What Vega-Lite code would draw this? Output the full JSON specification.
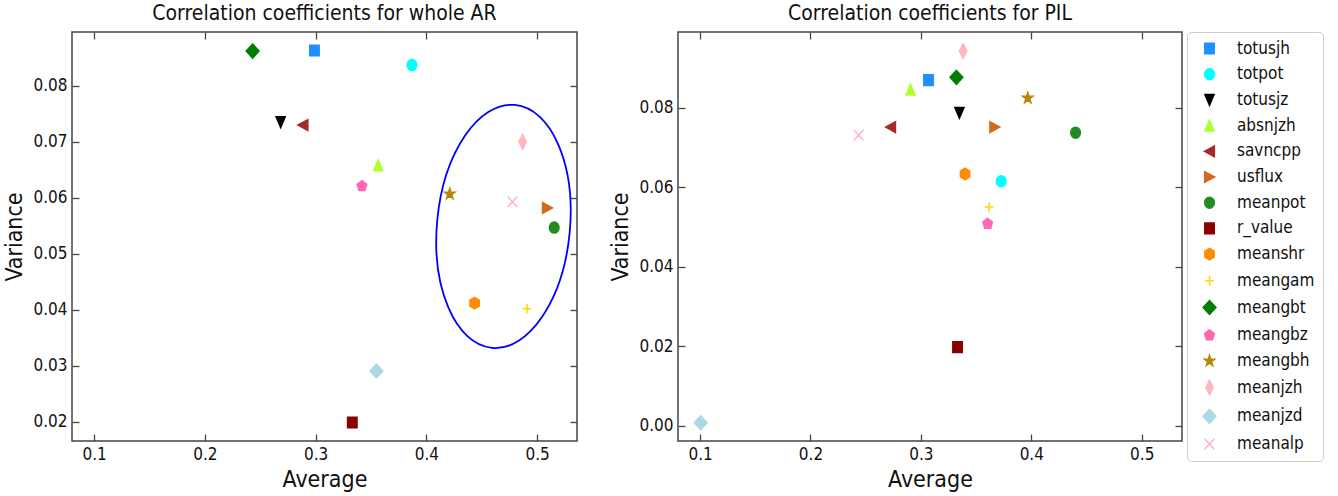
{
  "$schema": "https://vega.github.io/schema/vega-lite/v6.json",
  "padding": {"left": 3, "top": 2, "right": 0, "bottom": 0},
  "config": {
    "font": "DejaVu Sans Condensed, DejaVu Sans",
    "view": {"stroke": "#444444", "strokeWidth": 1.5},
    "axis": {
      "grid": false, "domain": false, "ticks": true, "tickSize": 7, "offset": -7,
      "tickColor": "#444444", "tickWidth": 1.3, "labelFontSize": 17, "labelColor": "#111111",
      "titleFontSize": 23, "titleFontWeight": "normal", "titleColor": "#111111",
      "labelPadding": 5, "titlePadding": 6, "labelFlush": false
    },
    "title": {"fontSize": 21, "fontWeight": "normal", "offset": 7, "baseline": "alphabetic", "color": "#111111"},
    "legend": {
      "orient": "right", "offset": 3, "padding": 8, "symbolOffset": 6, "strokeColor": "#cccccc", "cornerRadius": 4,
      "fillColor": "white", "labelFontSize": 17, "labelColor": "#111111", "symbolSize": 115,
      "symbolStrokeWidth": 1.5, "rowPadding": 7.7, "labelOffset": 19, "labelLimit": 200, "symbolOpacity": 1
    }
  },
  "datasets": {
    "whole": [
      {"feature": "totusjh", "average": 0.2989, "variance": 0.0863},
      {"feature": "totpot", "average": 0.3870, "variance": 0.0837},
      {"feature": "totusjz", "average": 0.2684, "variance": 0.0735},
      {"feature": "absnjzh", "average": 0.3565, "variance": 0.0658},
      {"feature": "savncpp", "average": 0.2886, "variance": 0.0730},
      {"feature": "usflux", "average": 0.5092, "variance": 0.0582},
      {"feature": "meanpot", "average": 0.5154, "variance": 0.0547},
      {"feature": "r_value", "average": 0.3331, "variance": 0.0199},
      {"feature": "meanshr", "average": 0.4435, "variance": 0.0412},
      {"feature": "meangam", "average": 0.4909, "variance": 0.0402},
      {"feature": "meangbt", "average": 0.2431, "variance": 0.0862},
      {"feature": "meangbz", "average": 0.3418, "variance": 0.0621},
      {"feature": "meangbh", "average": 0.4211, "variance": 0.0607},
      {"feature": "meanjzh", "average": 0.4869, "variance": 0.0700},
      {"feature": "meanjzd", "average": 0.3549, "variance": 0.0291},
      {"feature": "meanalp", "average": 0.4777, "variance": 0.0593}
    ],
    "pil": [
      {"feature": "totusjh", "average": 0.3069, "variance": 0.0869},
      {"feature": "totpot", "average": 0.3727, "variance": 0.0615},
      {"feature": "totusjz", "average": 0.3349, "variance": 0.0787},
      {"feature": "absnjzh", "average": 0.2906, "variance": 0.0845},
      {"feature": "savncpp", "average": 0.2726, "variance": 0.0751},
      {"feature": "usflux", "average": 0.3669, "variance": 0.0751},
      {"feature": "meanpot", "average": 0.4401, "variance": 0.0737},
      {"feature": "r_value", "average": 0.3332, "variance": 0.0198},
      {"feature": "meanshr", "average": 0.3400, "variance": 0.0633},
      {"feature": "meangam", "average": 0.3618, "variance": 0.0550},
      {"feature": "meangbt", "average": 0.3322, "variance": 0.0876},
      {"feature": "meangbz", "average": 0.3605, "variance": 0.0508},
      {"feature": "meangbh", "average": 0.3968, "variance": 0.0824},
      {"feature": "meanjzh", "average": 0.3383, "variance": 0.0942},
      {"feature": "meanjzd", "average": 0.1006, "variance": 0.0008},
      {"feature": "meanalp", "average": 0.2436, "variance": 0.0731}
    ],
    "ellipse": [{"average": 0.4696, "variance": 0.0549}]
  },
  "hconcat": [
    {
      "width": 505, "height": 409,
      "title": "Correlation coefficients for whole AR",
      "layer": [
        {
          "data": {"name": "whole"},
          "mark": {"type": "point", "filled": true, "size": 115, "strokeWidth": 1.5, "opacity": 1},
          "encoding": {
            "x": {"field": "average", "type": "quantitative", "scale": {"domain": [0.08, 0.536], "nice": false, "zero": false},
                  "axis": {"orient": "bottom", "values": [0.1, 0.2, 0.3, 0.4, 0.5], "format": ".1f", "title": "Average"}},
            "y": {"field": "variance", "type": "quantitative", "scale": {"domain": [0.0166, 0.0896], "nice": false, "zero": false},
                  "axis": {"orient": "left", "values": [0.02, 0.03, 0.04, 0.05, 0.06, 0.07, 0.08], "format": ".2f", "title": "Variance"}},
            "fill": {"field": "feature", "type": "nominal", "title": null,
                     "scale": {"domain": ["totusjh","totpot","totusjz","absnjzh","savncpp","usflux","meanpot","r_value","meanshr","meangam","meangbt","meangbz","meangbh","meanjzh","meanjzd","meanalp"],
                               "range": ["#1E90FF","#00FFFF","#000000","#ADFF2F","#A52A2A","#D2691E","#228B22","#8B0000","#FF8C00","#FFD700","#008000","#FF69B4","#B8860B","#FFB6C1","#ADD8E6","#FFB6C1"]}},
            "stroke": {"field": "feature", "type": "nominal", "title": null,
                     "scale": {"domain": ["totusjh","totpot","totusjz","absnjzh","savncpp","usflux","meanpot","r_value","meanshr","meangam","meangbt","meangbz","meangbh","meanjzh","meanjzd","meanalp"],
                               "range": ["#1E90FF","#00FFFF","#000000","#ADFF2F","#A52A2A","#D2691E","#228B22","#8B0000","#FF8C00","#FFD700","#008000","#FF69B4","#B8860B","#FFB6C1","#ADD8E6","#FFB6C1"]}},
            "shape": {"field": "feature", "type": "nominal", "title": null,
                     "scale": {"domain": ["totusjh","totpot","totusjz","absnjzh","savncpp","usflux","meanpot","r_value","meanshr","meangam","meangbt","meangbz","meangbh","meanjzh","meanjzd","meanalp"],
                               "range": ["M -0.88 -1 L 0.88 -1 L 0.88 1 L -0.88 1 Z","M 0.9 0 C 0.9 0.56 0.5 1.02 0 1.02 C -0.5 1.02 -0.9 0.56 -0.9 0 C -0.9 -0.56 -0.5 -1.02 0 -1.02 C 0.5 -1.02 0.9 -0.56 0.9 0 Z","M -0.85 -1 L 0.85 -1 L 0 1 Z","M 0 -1 L 0.85 1 L -0.85 1 Z","M -0.95 0 L 0.9 -1 L 0.9 1 Z","M 0.95 0 L -0.9 -1 L -0.9 1 Z","M 0.9 0 C 0.9 0.56 0.5 1.02 0 1.02 C -0.5 1.02 -0.9 0.56 -0.9 0 C -0.9 -0.56 -0.5 -1.02 0 -1.02 C 0.5 -1.02 0.9 -0.56 0.9 0 Z","M -0.88 -1 L 0.88 -1 L 0.88 1 L -0.88 1 Z","M 0 -1.08 L 0.866 -0.54 L 0.866 0.54 L 0 1.08 L -0.866 0.54 L -0.866 -0.54 Z","M -0.8 0 L 0.8 0 M 0 -0.9 L 0 0.9","M 0 -1.3 L 1.2 0 L 0 1.3 L -1.2 0 Z","M 0 -1.02 L 0.903 -0.32 L 0.559 0.83 L -0.559 0.83 L -0.903 -0.32 Z","M 0 -1.05 L 0.2245 -0.33 L 0.951 -0.33 L 0.363 0.125 L 0.588 0.85 L 0 0.4 L -0.588 0.85 L -0.363 0.125 L -0.951 -0.33 L -0.2245 -0.33 Z","M 0 -1.35 L 0.7 0 L 0 1.35 L -0.7 0 Z","M 0 -1.3 L 1.2 0 L 0 1.3 L -1.2 0 Z","M -0.9 -1 L 0.9 1 M -0.9 1 L 0.9 -1"]}}
          }
        },
        {
          "data": {"name": "ellipse"},
          "mark": {"type": "point", "filled": false, "opacity": 1, "stroke": "#0000FF", "strokeWidth": 1.8, "size": 10000, "angle": 5.4,
                   "shape": "M 1.33 0 C 1.33 1.35 0.735 2.44 0 2.44 C -0.735 2.44 -1.33 1.35 -1.33 0 C -1.33 -1.35 -0.735 -2.44 0 -2.44 C 0.735 -2.44 1.33 -1.35 1.33 0 Z"},
          "encoding": {
            "x": {"field": "average", "type": "quantitative", "scale": {"domain": [0.08, 0.536], "nice": false, "zero": false},
                  "axis": {"orient": "top", "values": [0.1, 0.2, 0.3, 0.4, 0.5], "labels": false, "title": null}},
            "y": {"field": "variance", "type": "quantitative", "scale": {"domain": [0.0166, 0.0896], "nice": false, "zero": false},
                  "axis": {"orient": "right", "values": [0.02, 0.03, 0.04, 0.05, 0.06, 0.07, 0.08], "labels": false, "title": null}}
          }
        }
      ],
      "resolve": {"axis": {"x": "independent", "y": "independent"}}
    },
    {
      "width": 504, "height": 409,
      "title": "Correlation coefficients for PIL",
      "layer": [
        {
          "data": {"name": "pil"},
          "mark": {"type": "point", "filled": true, "size": 115, "strokeWidth": 1.5, "opacity": 1},
          "encoding": {
            "x": {"field": "average", "type": "quantitative", "scale": {"domain": [0.08, 0.5365], "nice": false, "zero": false},
                  "axis": {"orient": "bottom", "values": [0.1, 0.2, 0.3, 0.4, 0.5], "format": ".1f", "title": "Average"}},
            "y": {"field": "variance", "type": "quantitative", "scale": {"domain": [-0.0038, 0.099], "nice": false, "zero": false},
                  "axis": {"orient": "left", "values": [0, 0.02, 0.04, 0.06, 0.08], "format": ".2f", "title": "Variance"}},
            "fill": {"field": "feature", "type": "nominal", "title": null,
                     "scale": {"domain": ["totusjh","totpot","totusjz","absnjzh","savncpp","usflux","meanpot","r_value","meanshr","meangam","meangbt","meangbz","meangbh","meanjzh","meanjzd","meanalp"],
                               "range": ["#1E90FF","#00FFFF","#000000","#ADFF2F","#A52A2A","#D2691E","#228B22","#8B0000","#FF8C00","#FFD700","#008000","#FF69B4","#B8860B","#FFB6C1","#ADD8E6","#FFB6C1"]}},
            "stroke": {"field": "feature", "type": "nominal", "title": null,
                     "scale": {"domain": ["totusjh","totpot","totusjz","absnjzh","savncpp","usflux","meanpot","r_value","meanshr","meangam","meangbt","meangbz","meangbh","meanjzh","meanjzd","meanalp"],
                               "range": ["#1E90FF","#00FFFF","#000000","#ADFF2F","#A52A2A","#D2691E","#228B22","#8B0000","#FF8C00","#FFD700","#008000","#FF69B4","#B8860B","#FFB6C1","#ADD8E6","#FFB6C1"]}},
            "shape": {"field": "feature", "type": "nominal", "title": null,
                     "scale": {"domain": ["totusjh","totpot","totusjz","absnjzh","savncpp","usflux","meanpot","r_value","meanshr","meangam","meangbt","meangbz","meangbh","meanjzh","meanjzd","meanalp"],
                               "range": ["M -0.88 -1 L 0.88 -1 L 0.88 1 L -0.88 1 Z","M 0.9 0 C 0.9 0.56 0.5 1.02 0 1.02 C -0.5 1.02 -0.9 0.56 -0.9 0 C -0.9 -0.56 -0.5 -1.02 0 -1.02 C 0.5 -1.02 0.9 -0.56 0.9 0 Z","M -0.85 -1 L 0.85 -1 L 0 1 Z","M 0 -1 L 0.85 1 L -0.85 1 Z","M -0.95 0 L 0.9 -1 L 0.9 1 Z","M 0.95 0 L -0.9 -1 L -0.9 1 Z","M 0.9 0 C 0.9 0.56 0.5 1.02 0 1.02 C -0.5 1.02 -0.9 0.56 -0.9 0 C -0.9 -0.56 -0.5 -1.02 0 -1.02 C 0.5 -1.02 0.9 -0.56 0.9 0 Z","M -0.88 -1 L 0.88 -1 L 0.88 1 L -0.88 1 Z","M 0 -1.08 L 0.866 -0.54 L 0.866 0.54 L 0 1.08 L -0.866 0.54 L -0.866 -0.54 Z","M -0.8 0 L 0.8 0 M 0 -0.9 L 0 0.9","M 0 -1.3 L 1.2 0 L 0 1.3 L -1.2 0 Z","M 0 -1.02 L 0.903 -0.32 L 0.559 0.83 L -0.559 0.83 L -0.903 -0.32 Z","M 0 -1.05 L 0.2245 -0.33 L 0.951 -0.33 L 0.363 0.125 L 0.588 0.85 L 0 0.4 L -0.588 0.85 L -0.363 0.125 L -0.951 -0.33 L -0.2245 -0.33 Z","M 0 -1.35 L 0.7 0 L 0 1.35 L -0.7 0 Z","M 0 -1.3 L 1.2 0 L 0 1.3 L -1.2 0 Z","M -0.9 -1 L 0.9 1 M -0.9 1 L 0.9 -1"]}}
          }
        },
        {
          "data": {"name": "pil"},
          "mark": {"type": "point", "opacity": 0},
          "encoding": {
            "x": {"field": "average", "type": "quantitative", "scale": {"domain": [0.08, 0.5365], "nice": false, "zero": false},
                  "axis": {"orient": "top", "values": [0.1, 0.2, 0.3, 0.4, 0.5], "labels": false, "title": null}},
            "y": {"field": "variance", "type": "quantitative", "scale": {"domain": [-0.0038, 0.099], "nice": false, "zero": false},
                  "axis": {"orient": "right", "values": [0, 0.02, 0.04, 0.06, 0.08], "labels": false, "title": null}}
          }
        }
      ],
      "resolve": {"axis": {"x": "independent", "y": "independent"}}
    }
  ],
  "spacing": 30,
  "resolve": {"scale": {"x": "independent", "y": "independent"}}
}
